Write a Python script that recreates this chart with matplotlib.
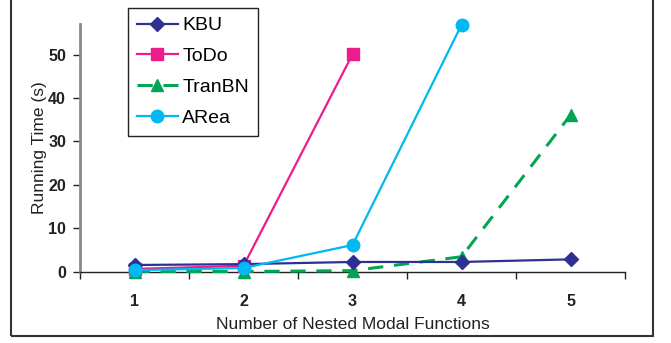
import matplotlib
matplotlib.use("Agg")
import matplotlib.pyplot as plt
from matplotlib.patches import Rectangle

plt.rcParams['font.family'] = ['Liberation Sans', 'DejaVu Sans']

categories = [1, 2, 3, 4, 5]
kbu_x = [1, 2, 3, 4, 5]
kbu = [1.5, 1.7, 2.2, 2.2, 2.8]
todo_x = [1, 2, 3]
todo = [0.6, 1.3, 50.1]
tranbn_x = [1, 2, 3, 4, 5]
tranbn = [0.0, 0.0, 0.2, 3.4, 36.1]
area_x = [1, 2, 3, 4]
area = [0.3, 0.8, 6.1, 56.9]
yticks = [0, 10, 20, 30, 40, 50]

W, H = 671, 343
fig = plt.figure(figsize=(W / 100, H / 100), dpi=100)
ax = fig.add_axes([80 / W, 1 - 271.5 / H, (625 - 80) / W, (271.5 - 24) / H])

ax.plot(kbu_x, kbu, color='#2E3192', lw=1.6, marker='D', ms=7.5, label='KBU', clip_on=False, zorder=5)
ax.plot(todo_x, todo, color='#EC1C8C', lw=1.6, marker='s', ms=8, label='ToDo', clip_on=False, zorder=4)
ax.plot(tranbn_x, tranbn, color='#00A651', lw=2.2, marker='^', ms=9, dashes=(5, 3.5), label='TranBN', clip_on=False, zorder=3)
ax.plot(area_x, area, color='#00B9F2', lw=1.6, marker='o', ms=9, label='ARea', clip_on=False, zorder=6)

ax.set_xlim(0.5, 5.5)
ax.set_ylim(0, 57.1)
ax.set_xticks(categories)
ax.set_xticks([0.5, 1.5, 2.5, 3.5, 4.5, 5.5], minor=True)
ax.tick_params(axis='x', which='major', length=0, pad=16, labelsize=11.5)
ax.tick_params(axis='x', which='minor', length=5, width=1, direction='out', color='#222')
ax.set_yticks(yticks)
ax.tick_params(axis='y', length=5, width=1, direction='out', color='#222', labelsize=11.5, pad=5)
for lab in ax.get_xticklabels() + ax.get_yticklabels():
    lab.set_fontweight('bold')
    lab.set_color('#222')

for s in ['top', 'right']:
    ax.spines[s].set_visible(False)
ax.spines['left'].set_color('#8a8a8a')
ax.spines['left'].set_linewidth(2)
ax.spines['bottom'].set_color('#222')
ax.spines['bottom'].set_linewidth(1)

ax.set_xlabel('Number of Nested Modal Functions', fontsize=12.5, color='#222', labelpad=6)
ax.set_ylabel('Running Time (s)', fontsize=12.5, color='#222', labelpad=1)

leg = fig.legend(loc='upper left', bbox_to_anchor=(128 / W, 1 - 8 / H), bbox_transform=fig.transFigure,
                 fontsize=14, frameon=True, fancybox=False, edgecolor='#222', framealpha=1,
                 handlelength=2.1, handletextpad=0.25, borderpad=0.45, labelspacing=0.68,
                 borderaxespad=0)
leg.get_frame().set_linewidth(1)

fig.patches.append(Rectangle((11 / W, 1 - 336 / H), (653 - 11) / W, 336 / H + 0.01,
                             transform=fig.transFigure, fill=False, edgecolor='#333', lw=1.5))

fig.savefig('out.png', dpi=100)
